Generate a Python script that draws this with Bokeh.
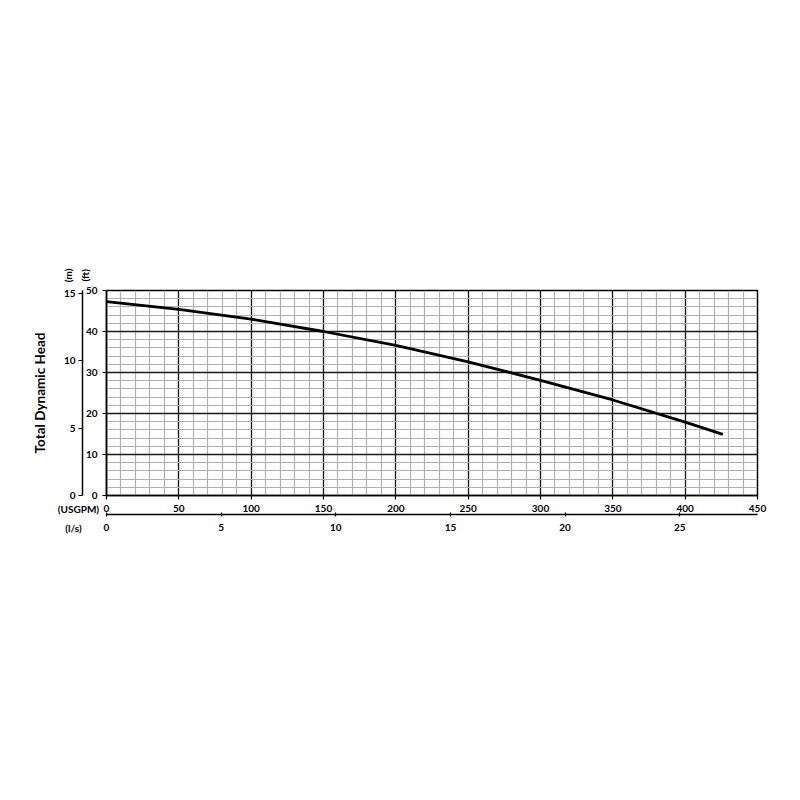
import math
from bokeh.plotting import figure
from bokeh.models import (Range1d, LinearAxis, FixedTicker, SingleIntervalTicker, Label)
from bokeh.embed import file_html
from bokeh.resources import INLINE

# ---- data ----
flow_usgpm = [0, 50, 100, 150, 200, 250, 300, 350, 400, 426]
head_ft = [47.3, 45.4, 43.0, 40.0, 36.6, 32.6, 28.1, 23.3, 17.9, 14.9]

usgpm_ticks = [0, 50, 100, 150, 200, 250, 300, 350, 400, 450]
ls_ticks = [0, 5, 10, 15, 20, 25]
ft_ticks = [0, 10, 20, 30, 40, 50]
m_ticks = [0, 5, 10, 15]

X_MAX = 450
Y_MAX = 50
FT_TO_M = 0.3048
USGPM_TO_LS = 0.0630902

FONT = "Lato"
TICK_SIZE = "10px"

p = figure(width=790, height=570, x_range=Range1d(0, X_MAX), y_range=Range1d(0, Y_MAX),
           output_backend="svg", toolbar_location=None,
           min_border_left=106, min_border_right=33, min_border_top=290, min_border_bottom=75)
p.background_fill_color = "white"
p.border_fill_color = "white"
p.outline_line_color = "black"
p.outline_line_width = 1.5

p.extra_y_ranges = {"m": Range1d(0, Y_MAX * FT_TO_M)}
p.extra_x_ranges = {"ls": Range1d(0, X_MAX * USGPM_TO_LS)}

def style_axis(ax, tick_out=4, tick_in=0, standoff=4):
    ax.axis_line_color = "black"
    ax.axis_line_width = 1.5
    ax.major_tick_line_color = "black"
    ax.major_tick_line_width = 1.2
    ax.major_tick_out = tick_out
    ax.major_tick_in = tick_in
    ax.minor_tick_line_color = None
    ax.major_label_text_font = FONT
    ax.major_label_text_font_style = "bold"
    ax.major_label_text_font_size = TICK_SIZE
    ax.major_label_text_color = "black"
    ax.major_label_standoff = standoff

# primary x axis (USGPM)
xa = p.xaxis[0]
xa.ticker = FixedTicker(ticks=usgpm_ticks)
style_axis(xa, tick_out=4, standoff=5)

# primary y axis (ft)
ya = p.yaxis[0]
ya.ticker = FixedTicker(ticks=ft_ticks)
style_axis(ya, tick_out=4, standoff=5)

# secondary y axis (m), further left
ym = LinearAxis(y_range_name="m", ticker=FixedTicker(ticks=m_ticks),
                axis_label="Total Dynamic Head")
style_axis(ym, tick_out=4, standoff=3)
ym.axis_label_text_font = FONT
ym.axis_label_text_font_style = "bold"
ym.axis_label_text_font_size = "13.5px"
ym.axis_label_text_color = "black"
ym.axis_label_standoff = 13
p.add_layout(ym, "left")

# secondary x axis (l/s), below
xl = LinearAxis(x_range_name="ls", ticker=FixedTicker(ticks=ls_ticks))
style_axis(xl, tick_out=2, tick_in=2, standoff=7)
p.add_layout(xl, "below")

# grid
p.xgrid.ticker = SingleIntervalTicker(interval=50, num_minor_ticks=5)
p.ygrid.ticker = SingleIntervalTicker(interval=10, num_minor_ticks=5)
for g in (p.xgrid[0], p.ygrid[0]):
    g.grid_line_color = "#1a1a1a"
    g.grid_line_width = 1.3
    g.grid_line_alpha = 1.0
    g.minor_grid_line_color = "#b0b0b0"
    g.minor_grid_line_width = 1.2

# curve
p.line(flow_usgpm, head_ft, line_color="black", line_width=2.8)

# unit labels (outside the frame, placed in side panels so they are not clipped)
def unit_label(text, x, y, side, angle=0.0):
    lab = Label(x=x, y=y, text=text, angle=angle, text_align="center",
                text_baseline="middle", text_font=FONT, text_font_style="bold",
                text_font_size=TICK_SIZE, text_color="black")
    p.add_layout(lab, side)

unit_label("(m)", -26.3, 53.7, "left", math.pi / 2)
unit_label("(ft)", -15.2, 53.7, "left", math.pi / 2)
unit_label("(USGPM)", -19.4, -3.4, "below")
unit_label("(l/s)", -22.8, -8.0, "below")

open("out.html", "w").write(file_html(p, INLINE))
